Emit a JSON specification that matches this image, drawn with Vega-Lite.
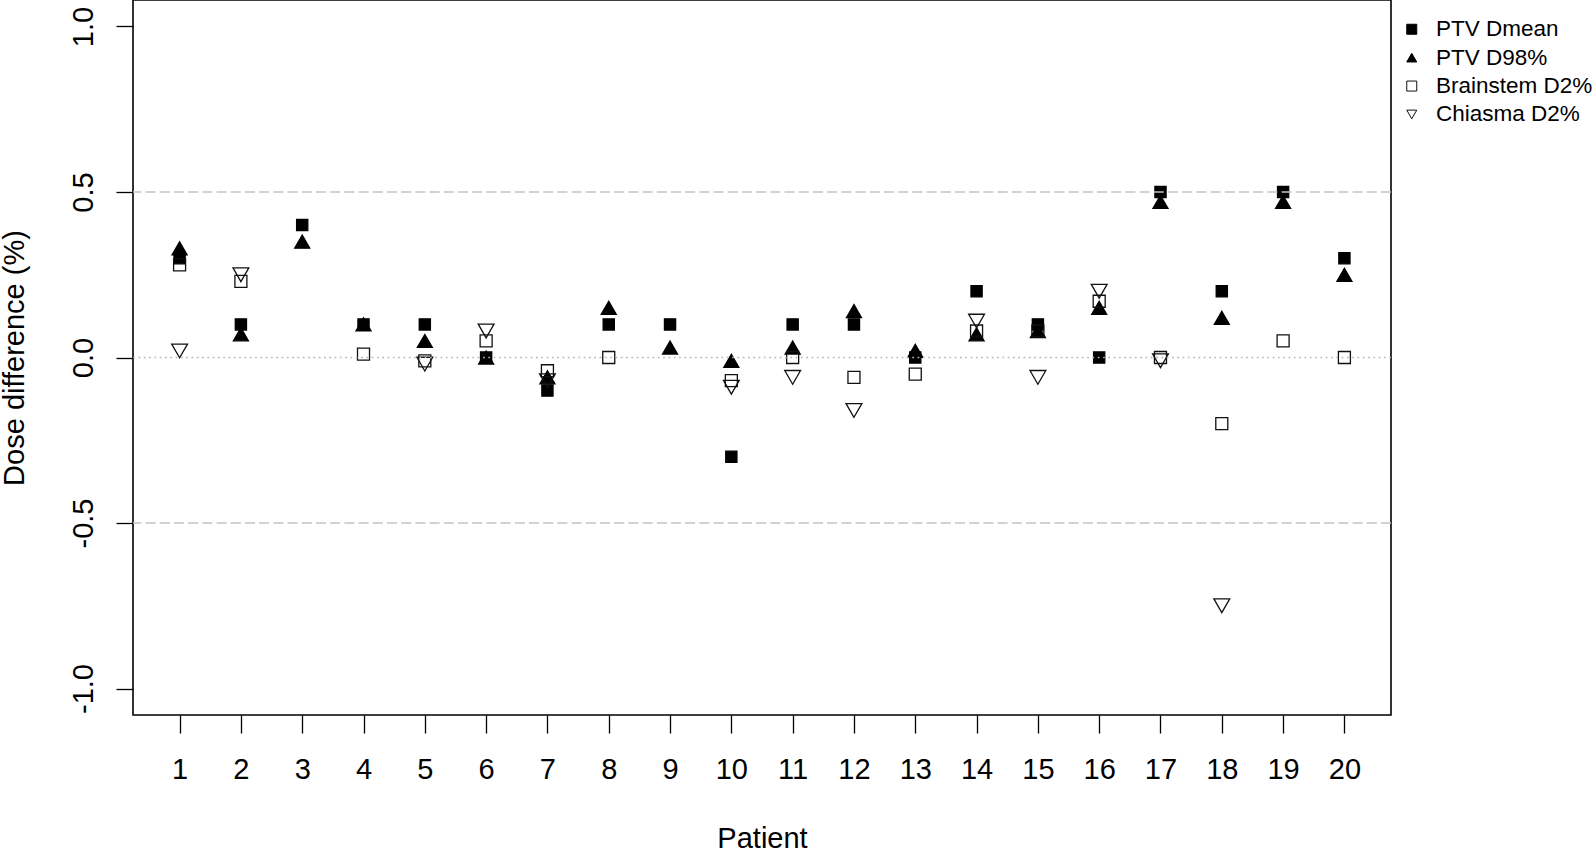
{
  "$schema": "https://vega.github.io/schema/vega-lite/v6.json",
  "width": 1258,
  "height": 715,
  "autosize": {"type": "none"},
  "padding": {"left": 133, "top": 0, "right": 202, "bottom": 135},
  "background": "white",
  "config": {
    "view": {"stroke": "black", "strokeWidth": 1.6},
    "font": "Liberation Sans"
  },
  "datasets": {
    "points": [
      {"patient": 1, "measure": "PTV Dmean", "value": 0.3},
      {"patient": 2, "measure": "PTV Dmean", "value": 0.1},
      {"patient": 3, "measure": "PTV Dmean", "value": 0.4},
      {"patient": 4, "measure": "PTV Dmean", "value": 0.1},
      {"patient": 5, "measure": "PTV Dmean", "value": 0.1},
      {"patient": 6, "measure": "PTV Dmean", "value": 0.0},
      {"patient": 7, "measure": "PTV Dmean", "value": -0.1},
      {"patient": 8, "measure": "PTV Dmean", "value": 0.1},
      {"patient": 9, "measure": "PTV Dmean", "value": 0.1},
      {"patient": 10, "measure": "PTV Dmean", "value": -0.3},
      {"patient": 11, "measure": "PTV Dmean", "value": 0.1},
      {"patient": 12, "measure": "PTV Dmean", "value": 0.1},
      {"patient": 13, "measure": "PTV Dmean", "value": 0.0},
      {"patient": 14, "measure": "PTV Dmean", "value": 0.2},
      {"patient": 15, "measure": "PTV Dmean", "value": 0.1},
      {"patient": 16, "measure": "PTV Dmean", "value": 0.0},
      {"patient": 17, "measure": "PTV Dmean", "value": 0.5},
      {"patient": 18, "measure": "PTV Dmean", "value": 0.2},
      {"patient": 19, "measure": "PTV Dmean", "value": 0.5},
      {"patient": 20, "measure": "PTV Dmean", "value": 0.3},
      {"patient": 1, "measure": "PTV D98%", "value": 0.33},
      {"patient": 2, "measure": "PTV D98%", "value": 0.07},
      {"patient": 3, "measure": "PTV D98%", "value": 0.35},
      {"patient": 4, "measure": "PTV D98%", "value": 0.1},
      {"patient": 5, "measure": "PTV D98%", "value": 0.05},
      {"patient": 6, "measure": "PTV D98%", "value": 0.0},
      {"patient": 7, "measure": "PTV D98%", "value": -0.06},
      {"patient": 8, "measure": "PTV D98%", "value": 0.15},
      {"patient": 9, "measure": "PTV D98%", "value": 0.03},
      {"patient": 10, "measure": "PTV D98%", "value": -0.01},
      {"patient": 11, "measure": "PTV D98%", "value": 0.03},
      {"patient": 12, "measure": "PTV D98%", "value": 0.14},
      {"patient": 13, "measure": "PTV D98%", "value": 0.02},
      {"patient": 14, "measure": "PTV D98%", "value": 0.07},
      {"patient": 15, "measure": "PTV D98%", "value": 0.08},
      {"patient": 16, "measure": "PTV D98%", "value": 0.15},
      {"patient": 17, "measure": "PTV D98%", "value": 0.47},
      {"patient": 18, "measure": "PTV D98%", "value": 0.12},
      {"patient": 19, "measure": "PTV D98%", "value": 0.47},
      {"patient": 20, "measure": "PTV D98%", "value": 0.25},
      {"patient": 1, "measure": "Brainstem D2%", "value": 0.28},
      {"patient": 2, "measure": "Brainstem D2%", "value": 0.23},
      {"patient": 4, "measure": "Brainstem D2%", "value": 0.01},
      {"patient": 5, "measure": "Brainstem D2%", "value": -0.01},
      {"patient": 6, "measure": "Brainstem D2%", "value": 0.05},
      {"patient": 7, "measure": "Brainstem D2%", "value": -0.04},
      {"patient": 8, "measure": "Brainstem D2%", "value": 0.0},
      {"patient": 10, "measure": "Brainstem D2%", "value": -0.07},
      {"patient": 11, "measure": "Brainstem D2%", "value": 0.0},
      {"patient": 12, "measure": "Brainstem D2%", "value": -0.06},
      {"patient": 13, "measure": "Brainstem D2%", "value": -0.05},
      {"patient": 14, "measure": "Brainstem D2%", "value": 0.08},
      {"patient": 15, "measure": "Brainstem D2%", "value": 0.08},
      {"patient": 16, "measure": "Brainstem D2%", "value": 0.17},
      {"patient": 17, "measure": "Brainstem D2%", "value": 0.0},
      {"patient": 18, "measure": "Brainstem D2%", "value": -0.2},
      {"patient": 19, "measure": "Brainstem D2%", "value": 0.05},
      {"patient": 20, "measure": "Brainstem D2%", "value": 0.0},
      {"patient": 1, "measure": "Chiasma D2%", "value": 0.02},
      {"patient": 2, "measure": "Chiasma D2%", "value": 0.25},
      {"patient": 5, "measure": "Chiasma D2%", "value": -0.02},
      {"patient": 6, "measure": "Chiasma D2%", "value": 0.08},
      {"patient": 7, "measure": "Chiasma D2%", "value": -0.07},
      {"patient": 10, "measure": "Chiasma D2%", "value": -0.09},
      {"patient": 11, "measure": "Chiasma D2%", "value": -0.06},
      {"patient": 12, "measure": "Chiasma D2%", "value": -0.16},
      {"patient": 14, "measure": "Chiasma D2%", "value": 0.11},
      {"patient": 15, "measure": "Chiasma D2%", "value": -0.06},
      {"patient": 16, "measure": "Chiasma D2%", "value": 0.2},
      {"patient": 17, "measure": "Chiasma D2%", "value": -0.01},
      {"patient": 18, "measure": "Chiasma D2%", "value": -0.75}
    ],
    "dashed": [{"value": 0.5}, {"value": -0.5}],
    "dotted": [{"value": 0}]
  },
  "layer": [
    {
      "data": {"name": "points"},
      "mark": {"type": "point", "filled": false, "strokeWidth": 1.3, "opacity": 1},
      "encoding": {
        "x": {
          "field": "patient",
          "type": "quantitative",
          "scale": {"domain": [0.24, 20.76], "nice": false, "zero": false},
          "axis": {
            "values": [1, 2, 3, 4, 5, 6, 7, 8, 9, 10, 11, 12, 13, 14, 15, 16, 17, 18, 19, 20],
            "format": "d",
            "title": "Patient",
            "titleFontSize": 29,
            "titleFontWeight": "normal",
            "titleColor": "black",
            "titleFont": "Liberation Sans",
            "titleX": 629,
            "titleY": 132,
            "titleBaseline": "alphabetic",
            "titleAlign": "center",
            "labelFontSize": 29,
            "labelFont": "Liberation Sans",
            "labelColor": "black",
            "labelBaseline": "top",
            "labelPadding": 22,
            "labelFlush": false,
            "labelOverlap": false,
            "tickSize": 18,
            "tickColor": "black",
            "tickWidth": 1.3,
            "domain": false,
            "grid": false
          }
        },
        "y": {
          "field": "value",
          "type": "quantitative",
          "scale": {"domain": [-1.08, 1.08], "nice": false, "zero": false},
          "axis": {
            "values": [-1, -0.5, 0, 0.5, 1],
            "labelExpr": "datum.value < 0 ? '-' + format(-datum.value, '.1f') : format(datum.value, '.1f')",
            "title": "Dose difference (%)",
            "titleFontSize": 29,
            "titleFontWeight": "normal",
            "titleColor": "black",
            "titleFont": "Liberation Sans",
            "titleAngle": 270,
            "titleX": -110,
            "titleY": 357.5,
            "titleBaseline": "alphabetic",
            "titleAlign": "center",
            "labelFontSize": 29,
            "labelFont": "Liberation Sans",
            "labelColor": "black",
            "labelAngle": 270,
            "labelAlign": "center",
            "labelBaseline": "alphabetic",
            "labelPadding": 24,
            "labelFlush": false,
            "labelOverlap": false,
            "tickSize": 17,
            "tickColor": "black",
            "tickWidth": 1.3,
            "domain": false,
            "grid": false
          }
        },
        "fill": {
          "field": "measure",
          "type": "nominal",
          "scale": {
            "domain": ["PTV Dmean", "PTV D98%", "Brainstem D2%", "Chiasma D2%"],
            "range": ["#000000", "#000000", "rgba(255,255,255,0)", "rgba(255,255,255,0)"]
          },
          "legend": {
            "title": null,
            "orient": "none",
            "legendX": 1267.5,
            "legendY": 18,
            "padding": 0,
            "labelFontSize": 22.5,
            "labelFont": "Liberation Sans",
            "labelColor": "black",
            "symbolSize": 100,
            "symbolStrokeWidth": 1,
            "labelOffset": 13,
            "rowPadding": 5.4
          }
        },
        "stroke": {
          "field": "measure",
          "type": "nominal",
          "scale": {
            "domain": ["PTV Dmean", "PTV D98%", "Brainstem D2%", "Chiasma D2%"],
            "range": ["#000000", "#000000", "#111111", "#111111"]
          },
          "legend": {
            "title": null,
            "orient": "none",
            "legendX": 1267.5,
            "legendY": 18,
            "padding": 0,
            "labelFontSize": 22.5,
            "labelFont": "Liberation Sans",
            "labelColor": "black",
            "symbolSize": 100,
            "symbolStrokeWidth": 1,
            "labelOffset": 13,
            "rowPadding": 5.4
          }
        },
        "shape": {
          "field": "measure",
          "type": "nominal",
          "scale": {
            "domain": ["PTV Dmean", "PTV D98%", "Brainstem D2%", "Chiasma D2%"],
            "range": ["square", "triangle-up", "square", "triangle-down"]
          },
          "legend": {
            "title": null,
            "orient": "none",
            "legendX": 1267.5,
            "legendY": 18,
            "padding": 0,
            "labelFontSize": 22.5,
            "labelFont": "Liberation Sans",
            "labelColor": "black",
            "symbolSize": 100,
            "symbolStrokeWidth": 1,
            "labelOffset": 13,
            "rowPadding": 5.4
          }
        },
        "size": {
          "field": "measure",
          "type": "nominal",
          "scale": {
            "type": "ordinal",
            "domain": ["Brainstem D2%", "Chiasma D2%", "PTV Dmean", "PTV D98%"],
            "range": [144, 250, 125, 225]
          },
          "legend": null
        }
      }
    },
    {
      "data": {"name": "dashed"},
      "mark": {"type": "rule", "color": "#c4c4c4", "strokeWidth": 1.6, "strokeDash": [10, 4.2]},
      "encoding": {"y": {"field": "value", "type": "quantitative"}}
    },
    {
      "data": {"name": "dotted"},
      "mark": {"type": "rule", "color": "#b4b4b4", "strokeWidth": 1.6, "strokeDash": [1.7, 3.6]},
      "encoding": {"y": {"field": "value", "type": "quantitative"}}
    }
  ]
}
